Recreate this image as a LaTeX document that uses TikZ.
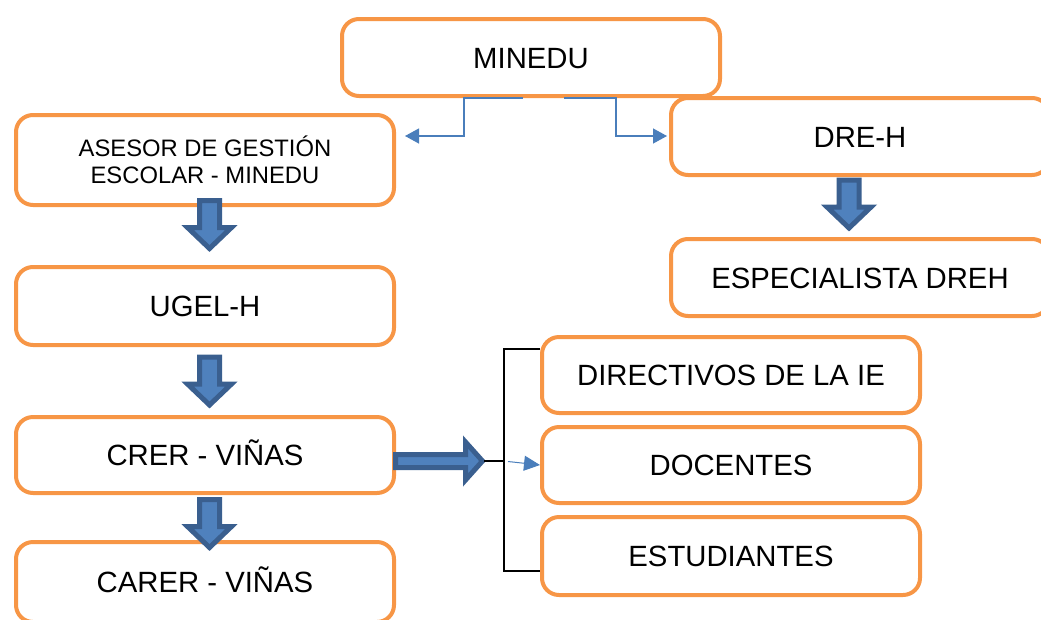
\documentclass[tikz,border=0pt]{standalone}
\usepackage{fontspec}
\setmainfont{Liberation Sans}
\usetikzlibrary{arrows.meta}
\definecolor{boxorange}{HTML}{F79646}
\definecolor{arrowfill}{HTML}{4F81BD}
\definecolor{arrowedge}{HTML}{3A5F8F}
\definecolor{linkblue}{HTML}{4A7EBB}
\begin{document}
\begin{tikzpicture}[x=1pt, y=-1pt,
			box/.style={draw=boxorange, line width=4pt, rounded corners=17pt, fill=white, minimum width=378pt, minimum height=77pt, inner sep=2pt},
			onel/.style={box, font=\fontsize{29.3}{34}\selectfont, text height=21pt, text depth=0pt},
			link/.style={draw=linkblue, line width=1.3pt, -{Triangle[length=14pt, width=15pt]}},
			bracket/.style={draw=black, line width=1.3pt},
			blockarrow/.style={fill=arrowfill, draw=arrowedge, line width=5pt, line join=miter},
			downblock/.pic={\path[blockarrow] (-10,0) -- (10,0) -- (10,27) -- (22,27) -- (0,48) -- (-22,27) -- (-10,27) -- cycle;},
			rightblock/.pic={\path[blockarrow] (0,-6.5) -- (70,-6.5) -- (70,-19) -- (87,0) -- (70,19) -- (70,6.5) -- (0,6.5) -- cycle;}]
			\useasboundingbox (0,0) rectangle (1041,619);
			\clip (0,0) rectangle (1041,619);
			\node[onel] (minedu) at (531,57.5) {MINEDU};
			\node[box, minimum height=90pt, align=center, font=\fontsize{23.8}{27}\selectfont] (asesor) at (205,160) {ASESOR DE GESTIÓN\\ESCOLAR - MINEDU};
			\node[onel, minimum height=78pt] (ugel) at (205,306) {UGEL-H};
			\node[onel, minimum height=76pt] (crer) at (205,455) {CRER - VIÑAS};
			\node[onel, minimum height=80pt] (carer) at (205,582) {CARER - VIÑAS};
			\node[onel] (dreh) at (860,136.5) {DRE-H};
			\node[onel] (esp) at (860,277.5) {ESPECIALISTA DREH};
			\node[onel, minimum height=76pt] (directivos) at (731,375) {DIRECTIVOS DE LA IE};
			\node[onel, minimum height=76pt] (docentes) at (731,465) {DOCENTES};
			\node[onel, minimum height=78pt] (estudiantes) at (731,556) {ESTUDIANTES};
			\coordinate (asesorin) at (405,136);
			\coordinate (drehin) at (667,136);
			\coordinate (tip) at (484,461);
			\coordinate (fork) at (504,461);
			\coordinate (docin) at (508,461.5);
			\draw[link] ([xshift=-8pt]minedu.south) -| (464,136) -- (asesorin);
			\draw[link] ([xshift=33pt]minedu.south) -| (616,136) -- (drehin);
			\pic at (209.5,200.5) {downblock};
			\pic at (209.5,357) {downblock};
			\pic at (209.5,499.5) {downblock};
			\pic at (849,180) {downblock};
			\pic at (395.5,461) {rightblock};
			\draw[bracket] (tip) -- (fork);
			\draw[bracket] ([yshift=26pt]directivos.west) -| (504,571) -- ([yshift=-15pt]estudiantes.west);
			\draw[link, line width=1pt, -{Triangle[length=16pt, width=15pt]}] (docin) -- (docentes.west);
		\end{tikzpicture}
\end{document}
